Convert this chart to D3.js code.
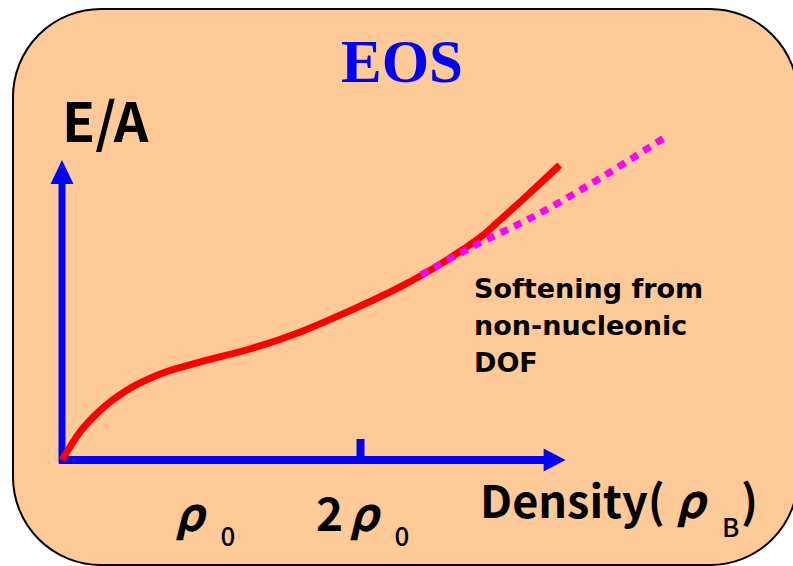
<!DOCTYPE html>
<html>
<head>
<meta charset="utf-8">
<script src="https://cdn.jsdelivr.net/npm/d3@7"></script>
<style>
html,body{margin:0;padding:0;background:#fff;}
svg{display:block;}
</style>
</head>
<body>
<svg id="chart" width="793" height="566"></svg>
<script>
// ---- data (density in units of rho0, E/A in arbitrary units) ----
const eosDensity = [0, 0.12, 0.26, 0.46, 0.66, 0.93, 1.26, 1.60, 1.93, 2.27, 2.54, 2.67, 2.81, 2.94, 3.14, 3.34];
const eosEnergy  = [0, 0.93, 1.67, 2.40, 2.87, 3.27, 3.70, 4.27, 4.97, 5.77, 6.53, 6.95, 7.43, 8.00, 8.90, 9.83];
const softDensity = [2.41, 2.79, 3.16, 3.68, 4.05];
const softEnergy  = [6.17, 7.20, 8.10, 9.60, 10.77];
const tickValues = [2];
const densityLabels = [{v: 1, pre: "", sub: "0"}, {v: 2, pre: "2", sub: "0"}];
const titleText = "EOS";
const yLabel = "E/A";
const noteLines = ["Softening from", "non-nucleonic", "DOF"];
const xDomainMax = 3.38, yDomainMax = 10;

const svg = d3.select("#chart");
const x = d3.scaleLinear().domain([0, 2]).range([62, 360]);
const y = d3.scaleLinear().domain([0, 10]).range([460, 160]);
const blue = "#0000FF";
const jp = "'Noto Sans CJK JP','Noto Sans',sans-serif";

// background rounded panel
svg.append("rect").attr("x", 13).attr("y", 9).attr("width", 785).attr("height", 556)
  .attr("rx", 88).attr("ry", 88)
  .attr("fill", "#FECB98").attr("stroke", "#000").attr("stroke-width", 2);

// title
svg.append("text").attr("x", 402).attr("y", 82).attr("text-anchor", "middle")
  .attr("font-family", "'Liberation Serif','Times New Roman',serif").attr("font-weight", "bold")
  .attr("font-size", 61).attr("fill", blue).text(titleText);

// y label
svg.append("text").attr("x", 62).attr("y", 142)
  .attr("font-family", jp).attr("font-weight", 700).attr("font-size", 54)
  .attr("fill", "#000").text(yLabel);

// axes lines
const x0 = x(0), y0 = y(0);
const xTip = x(xDomainMax), yTip = y(yDomainMax);
svg.append("line").attr("x1", x0).attr("x2", x0).attr("y1", y0 + 3).attr("y2", yTip + 22)
  .attr("stroke", blue).attr("stroke-width", 7);
svg.append("line").attr("x1", x0 - 3).attr("x2", xTip - 20).attr("y1", y0).attr("y2", y0)
  .attr("stroke", blue).attr("stroke-width", 8);
// arrowheads
svg.append("path").attr("d", `M${x0},${yTip} L${x0 + 11.5},${yTip + 24} L${x0 - 11.5},${yTip + 24} Z`).attr("fill", blue);
svg.append("path").attr("d", `M${xTip},${y0} L${xTip - 22},${y0 - 11.5} L${xTip - 22},${y0 + 11.5} Z`).attr("fill", blue);

// tick at 2 rho0 via d3 axis
const tickG = svg.append("g").attr("transform", `translate(0,${y0})`)
  .call(d3.axisTop(x).tickValues(tickValues).tickSize(21).tickFormat(""));
tickG.select(".domain").remove();
tickG.selectAll(".tick line").attr("stroke", blue).attr("stroke-width", 8);

// density labels
densityLabels.forEach(d => {
  const cx = x(d.v);
  const t = svg.append("text").attr("x", cx + (d.pre ? -44 : -36)).attr("y", 531)
    .attr("font-family", jp).attr("font-weight", 700).attr("font-size", 46).attr("fill", "#000");
  if (d.pre) t.append("tspan").text(d.pre);
  t.append("tspan").attr("dx", d.pre ? 6 : 0).attr("font-style", "italic").text("ρ");
  t.append("tspan").attr("dx", 16).attr("dy", 15).attr("font-size", 26).attr("font-weight", 500).text(d.sub);
});

// x axis title
svg.append("text").attr("x", 480).attr("y", 518)
  .attr("font-family", jp).attr("font-weight", 700).attr("font-size", 45).attr("fill", "#000").text("Density(");
svg.append("text").attr("x", 676).attr("y", 518).attr("font-family", jp).attr("font-weight", 700)
  .attr("font-size", 46).attr("font-style", "italic").attr("fill", "#000").text("ρ");
svg.append("text").attr("x", 722).attr("y", 537).attr("font-family", jp).attr("font-weight", 500)
  .attr("font-size", 26).attr("fill", "#000").text("B");
svg.append("text").attr("x", 741).attr("y", 518).attr("font-family", jp).attr("font-weight", 700)
  .attr("font-size", 45).attr("fill", "#000").text(")");

// EOS curve
const eosData = eosDensity.map((d, i) => [d, eosEnergy[i]]);
const line = d3.line().x(d => x(d[0])).y(d => y(d[1])).curve(d3.curveMonotoneX);
svg.append("path").datum(eosData).attr("d", line).attr("fill", "none")
  .attr("stroke", "#FF0000").attr("stroke-width", 7).attr("stroke-linecap", "butt");

// softened (dotted) extension
const softData = softDensity.map((d, i) => [d, softEnergy[i]]);
svg.append("path").datum(softData).attr("d", line).attr("fill", "none")
  .attr("stroke", "#FF00FF").attr("stroke-width", 7).attr("stroke-dasharray", "8,7");

// note text
const note = svg.append("text").attr("x", 474).attr("y", 298)
  .attr("font-family", "'DejaVu Sans',sans-serif").attr("font-weight", 700).attr("font-size", 27)
  .attr("fill", "#000");
noteLines.forEach((s, i) => note.append("tspan").attr("x", 474).attr("dy", i === 0 ? 0 : 37).text(s));
</script>
</body>
</html>
